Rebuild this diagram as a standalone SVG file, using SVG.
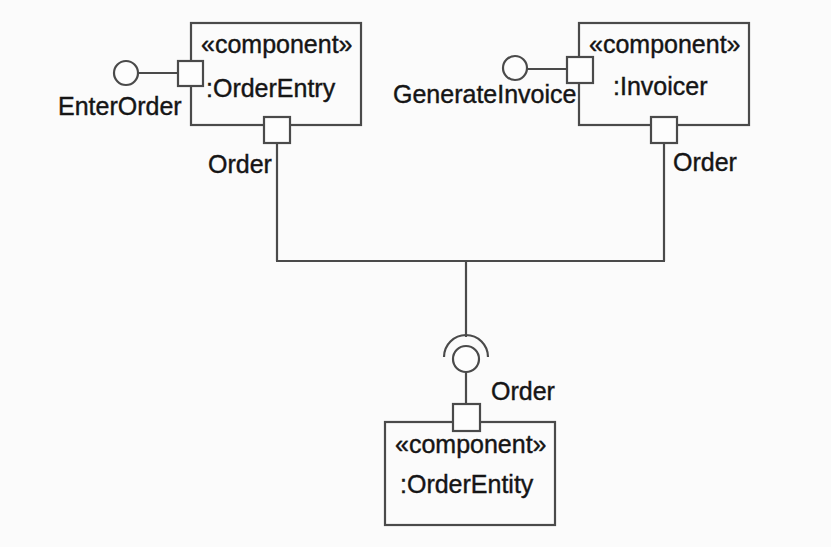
<svg xmlns="http://www.w3.org/2000/svg" width="831" height="547" viewBox="0 0 831 547">
<style>
.box{fill:none;stroke:#4a4a4a;stroke-width:2.2}
.port{fill:#fdfdfd;stroke:#4a4a4a;stroke-width:2.2}
.ln{fill:none;stroke:#4a4a4a;stroke-width:2.2}
.ball{fill:#fdfdfd;stroke:#4a4a4a;stroke-width:2.2}
text{font-family:"Liberation Sans",Arial,sans-serif;font-size:25px;fill:#151515;stroke:#151515;stroke-width:0.4}
</style>
<rect width="831" height="547" fill="#fbfbfb"/>
<g id="connectors">
<line class="ln" x1="277" y1="143" x2="277" y2="261"/>
<line class="ln" x1="664" y1="143" x2="664" y2="261"/>
<line class="ln" x1="276" y1="261" x2="665" y2="261"/>
<line class="ln" x1="466" y1="261" x2="466" y2="337"/>
<path class="ln" d="M444 357 A22 22 0 0 1 488 357"/>
<line class="ln" x1="466" y1="372" x2="466" y2="404"/>
<line class="ln" x1="138" y1="73" x2="178" y2="73"/>
<line class="ln" x1="527" y1="69" x2="567" y2="69"/>
</g>
<g id="OrderEntry">
<rect class="box" x="191" y="23" width="170" height="102"/>
<text x="201" y="53">«component»</text>
<text x="206" y="97">:OrderEntry</text>
<rect class="port" x="178" y="61" width="25" height="25"/>
<circle class="ball" cx="126" cy="73" r="12"/>
<text x="58" y="115">EnterOrder</text>
<rect class="port" x="264" y="117" width="26" height="26"/>
<text x="208" y="173">Order</text>
</g>
<g id="Invoicer">
<rect class="box" x="579" y="23" width="170" height="102"/>
<text x="589" y="53">«component»</text>
<text x="613" y="95">:Invoicer</text>
<rect class="port" x="567" y="57" width="26" height="26"/>
<circle class="ball" cx="515" cy="68" r="12"/>
<text x="393" y="103">GenerateInvoice</text>
<rect class="port" x="651" y="117" width="26" height="26"/>
<text x="673" y="171">Order</text>
</g>
<g id="OrderEntity">
<rect class="box" x="385" y="422" width="170" height="103"/>
<text x="395" y="453">«component»</text>
<text x="400" y="493">:OrderEntity</text>
<rect class="port" x="453" y="404" width="27" height="27"/>
<circle class="ball" cx="466" cy="359" r="13"/>
<text x="491" y="400">Order</text>
</g>
</svg>
